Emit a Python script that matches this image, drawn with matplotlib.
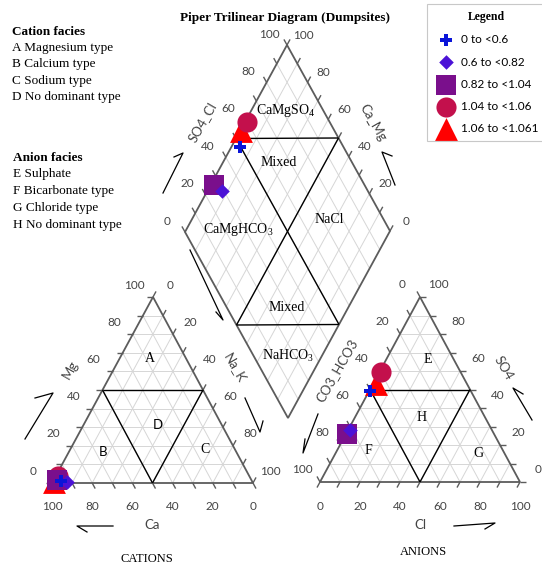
import numpy as np
import matplotlib.pyplot as plt

plt.rcParams['mathtext.fontset'] = 'custom'
plt.rcParams['mathtext.rm'] = 'Liberation Serif'

# ionic ratio classes (one sample per class)
classes = ['0 to <0.6', '0.6 to <0.82', '0.82 to <1.04', '1.04 to <1.06', '1.06 to <1.061']
ca = [95.0, 92.5, 97.0, 95.0, 99.0]
mg = [1.0, 0.5, 1.5, 4.0, 0.5]
nak = [4.0, 7.0, 1.5, 1.0, 0.5]
so4 = [49.0, 28.0, 26.0, 59.5, 53.0]
cl = [0.5, 1.0, 0.5, 0.5, 1.5]
hco3 = [50.5, 71.0, 73.5, 40.0, 45.5]

markers = ['P', 'D', 's', 'o', '^']
colors = ['#0a14d8', '#4b12d6', '#7a0f8c', '#c3104c', '#ff0000']
sizes = [80, 55, 190, 210, 270]

# layout of the three fields in pixel space
CAT = np.array([[52., 483.], [253., 483.], [153., 297.]])   # Ca, Na_K, Mg
AN = np.array([[320., 482.], [520., 482.], [420., 297.]])   # HCO3, Cl, SO4
DIA = np.array([[185., 232.], [287., 45.], [390., 231.]])   # left, top, right


def tri(c, a, b):
    a = np.asarray(a, float)[..., None]
    b = np.asarray(b, float)[..., None]
    return c[0] + a / 100 * (c[2] - c[0]) + b / 100 * (c[1] - c[0])


def dia(a, n):
    a = np.asarray(a, float)[..., None]
    n = np.asarray(n, float)[..., None]
    L, T, R = DIA
    return L + a / 100 * (T - L) + n / 100 * (R - T)


fig = plt.figure(figsize=(5.42, 5.69), dpi=100)
ax = fig.add_axes([0, 0, 1, 1])
ax.set_xlim(0, 542)
ax.set_ylim(569, 0)
ax.axis('off')

grid = dict(color='#d6d6d6', lw=0.7, zorder=1)
tick = dict(color='#5c5c5c', lw=1.0, zorder=3)
face = dict(color='black', lw=1.0, zorder=4)
num = dict(family='Lato', size=8.5, color='#444444', ha='center', va='center')
ser = dict(family='Liberation Serif', size=10, ha='center', va='center')


def seg(p, q, **kw):
    ax.plot([p[0], q[0]], [p[1], q[1]], solid_capstyle='butt', **kw)


d = 3
vals = np.arange(0, 101, 10)

# cation triangle: a = Mg, b = Na_K
for v in vals:
    if 0 < v < 100:
        seg(tri(CAT, v, 0), tri(CAT, v, 100 - v), **grid)
        seg(tri(CAT, 0, v), tri(CAT, 100 - v, v), **grid)
        seg(tri(CAT, 0, 100 - v), tri(CAT, 100 - v, 0), **grid)
    seg(tri(CAT, v, 0), tri(CAT, v, -d), **tick)
    seg(tri(CAT, 100 - v, v), tri(CAT, 100 - v + d, v), **tick)
    seg(tri(CAT, 0, 100 - v), tri(CAT, -d, 100 - v + d), **tick)
for v in range(0, 101, 20):
    p = tri(CAT, v, 0)
    ax.text(p[0] - 19, p[1] - 12, str(v), **num)
    p = tri(CAT, 100 - v, v)
    ax.text(p[0] + 17, p[1] - 12, str(v), **num)
    p = tri(CAT, 0, 100 - v)
    ax.text(p[0], p[1] + 23, str(v), **num)
ax.add_patch(plt.Polygon(CAT, closed=True, fill=False, ec='#5c5c5c', lw=1.3, zorder=3))
m1, m2, m3 = tri(CAT, 50, 0), tri(CAT, 50, 50), tri(CAT, 0, 50)
seg(m1, m2, **face)
seg(m1, m3, **face)
seg(m2, m3, **face)

# anion triangle: a = SO4, b = Cl
for v in vals:
    if 0 < v < 100:
        seg(tri(AN, v, 0), tri(AN, v, 100 - v), **grid)
        seg(tri(AN, 0, v), tri(AN, 100 - v, v), **grid)
        seg(tri(AN, 0, 100 - v), tri(AN, 100 - v, 0), **grid)
    seg(tri(AN, v, 100 - v), tri(AN, v, 100 - v + d), **tick)
    seg(tri(AN, 0, v), tri(AN, -d, v), **tick)
    seg(tri(AN, 100 - v, 0), tri(AN, 100 - v + d, -d), **tick)
for v in range(0, 101, 20):
    p = tri(AN, 100 - v, 0)
    ax.text(p[0] - 18, p[1] - 13, str(v), **num)
    p = tri(AN, v, 100 - v)
    ax.text(p[0] + 18, p[1] - 13, str(v), **num)
    p = tri(AN, 0, v)
    ax.text(p[0], p[1] + 24, str(v), **num)
ax.add_patch(plt.Polygon(AN, closed=True, fill=False, ec='#5c5c5c', lw=1.3, zorder=3))
m1, m2, m3 = tri(AN, 50, 0), tri(AN, 50, 50), tri(AN, 0, 50)
seg(m1, m2, **face)
seg(m1, m3, **face)
seg(m2, m3, **face)

# diamond: a = SO4+Cl, n = Na+K
for v in vals:
    if 0 < v < 100:
        seg(dia(v, 0), dia(v, 100), **grid)
        seg(dia(0, v), dia(100, v), **grid)
    seg(dia(v, 0), dia(v, -d), **tick)
    seg(dia(100, v), dia(100 + d, v), **tick)
for v in range(0, 101, 20):
    p = dia(v, 0)
    ax.text(p[0] - 18, p[1] - 11, str(v), **num)
    p = dia(100, 100 - v)
    ax.text(p[0] + 16, p[1] - 10, str(v), **num)
ax.add_patch(plt.Polygon([dia(0, 0), dia(100, 0), dia(100, 100), dia(0, 100)],
                         closed=True, fill=False, ec='#5c5c5c', lw=1.3, zorder=3))
seg(dia(50, 0), dia(100, 50), **face)
seg(dia(0, 50), dia(50, 100), **face)
seg(dia(50, 0), dia(50, 100), **face)
seg(dia(100, 50), dia(0, 50), **face)

# samples
handles = [None] * len(classes)
for i in [4, 3, 2, 1, 0]:
    kw = dict(marker=markers[i], s=sizes[i], c=colors[i], linewidths=0, zorder=6 + (4 - i))
    handles[i] = ax.scatter(*tri(CAT, mg[i], nak[i]).T, label=classes[i], **kw)
    ax.scatter(*tri(AN, so4[i], cl[i]).T, **kw)
    ax.scatter(*dia(so4[i] + cl[i], nak[i]).T, **kw)

# facies names
ax.text(286, 110, r'CaMgSO$_{4}$', **ser)
ax.text(279, 162, 'Mixed', **ser)
ax.text(238, 229, r'CaMgHCO$_{3}$', **ser)
ax.text(329, 219, 'NaCl', **ser)
ax.text(287, 307, 'Mixed', **ser)
ax.text(288, 356, r'NaHCO$_{3}$', **ser)
ax.text(150, 358, 'A', **ser)
ax.text(103, 452, 'B', family='Lato', size=9.5, ha='center', va='center')
ax.text(205, 449, 'C', **ser)
ax.text(158, 425, 'D', family='Lato', size=9.5, ha='center', va='center')
ax.text(428, 359, 'E', **ser)
ax.text(368, 450, 'F', **ser)
ax.text(478, 453, 'G', **ser)
ax.text(422, 417, 'H', **ser)

# axis names
ttl = dict(family='Lato', size=9.5, color='#444444', ha='center', va='center')
ax.text(70, 370, 'Mg', rotation=60, **ttl)
ax.text(235, 368, 'Na_K', rotation=-60, **ttl)
ax.text(152, 525, 'Ca', **ttl)
ax.text(337, 370, 'CO3_HCO3', rotation=60, **ttl)
ax.text(503, 368, 'SO4', rotation=-60, **ttl)
ax.text(420, 525, 'Cl', **ttl)
ax.text(202, 122, 'SO4_Cl', rotation=60, **ttl)
ax.text(373, 123, 'Ca_Mg', rotation=-60, **ttl)
ax.text(147, 559, 'CATIONS', family='Liberation Serif', size=9, ha='center', va='center')
ax.text(423, 552, 'ANIONS', family='Liberation Serif', size=9, ha='center', va='center')

# direction arrows
arrows = [
    [(25, 439), (53, 393), (35, 398)],
    [(245, 398), (260, 432), (263, 421)],
    [(113, 526), (77, 526), (87, 532)],
    [(318, 414), (303, 453), (305, 439)],
    [(532, 420), (513, 388), (523, 394)],
    [(454, 526), (495, 523), (485, 529)],
    [(163, 193), (183, 153), (174, 157)],
    [(395, 185), (382, 152), (392, 156)],
    [(190, 250), (223, 320), (216, 312)],
]
for pts in arrows:
    xs, ys = zip(*pts)
    ax.plot(xs, ys, color='black', lw=0.9, zorder=2)

ax.text(285, 18, 'Piper Trilinear Diagram (Dumpsites)', family='Liberation Serif',
        weight='bold', size=9.5, ha='center', va='center')

left = dict(family='Liberation Serif', size=9.5, ha='left', va='center')
ax.text(12, 32, 'Cation facies', weight='bold', **left)
for k, s in enumerate(['A Magnesium type', 'B Calcium type', 'C Sodium type', 'D No dominant type']):
    ax.text(12, 48 + 16.3 * k, s, **left)
ax.text(13, 158, 'Anion facies', weight='bold', **left)
for k, s in enumerate(['E Sulphate', 'F Bicarbonate type', 'G Chloride type', 'H No dominant type']):
    ax.text(13, 174 + 17 * k, s, **left)

leg = ax.legend(handles=handles, loc='upper left', bbox_to_anchor=(427 / 542, 1 - 4 / 569),
                borderaxespad=0, title='Legend', prop=dict(family='Lato', size=8.5),
                title_fontproperties=dict(family='Liberation Serif', weight='bold', size=8.5),
                fancybox=False, edgecolor='#c8c8c8', framealpha=1, labelspacing=0.95,
                handletextpad=0.3, borderpad=0.6)
leg.get_frame().set_linewidth(0.8)

fig.savefig('out.png', dpi=100)
